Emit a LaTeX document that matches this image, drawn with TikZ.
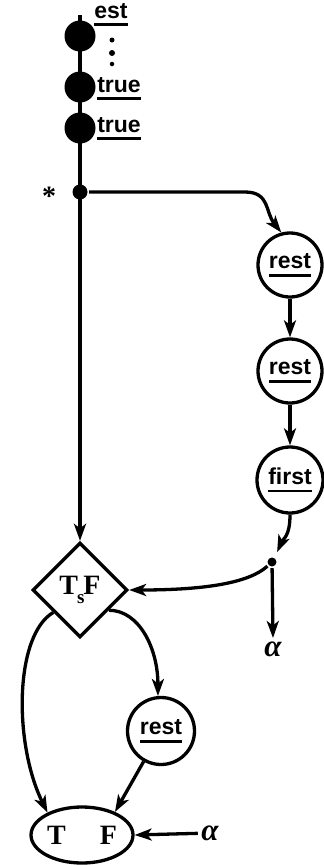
\documentclass[tikz,border=0pt]{standalone}
\usepackage{fontspec}
\setmainfont{Liberation Serif}
\newfontfamily\wordfont{Liberation Sans}
\usetikzlibrary{shapes.geometric,arrows.meta}
\newcommand\myul[1]{\setbox0\hbox{#1}\rlap{\rule[-8pt]{\wd0}{2.6pt}}\box0}
\begin{document}
\begin{tikzpicture}[x=1pt,y=-1pt,line width=3.3pt,
  arr/.style={-{Stealth[length=17pt,width=12pt,inset=4.5pt]}},
  blob/.style={circle,fill=black,draw=none,inner sep=0pt,minimum size=31pt},
  smalldot/.style={circle,fill=black,draw=none,inner sep=0pt,minimum size=#1},
  smalldot/.default=8pt,
  word/.style={font=\wordfont\bfseries\fontsize{23}{23}\selectfont,inner sep=0pt},
  ring/.style={circle,draw,inner sep=0pt,minimum size=64pt,font=\wordfont\bfseries\fontsize{23}{23}\selectfont},
  sym/.style={font=\bfseries\fontsize{28}{28}\selectfont},
  greek/.style={font=\bfseries\itshape\fontsize{31}{31}\selectfont,inner sep=2pt}
]
\useasboundingbox (0,0) rectangle (324,865);
% main vertical line
\coordinate (top) at (80,15);
\node[diamond,draw,minimum width=95pt,minimum height=95pt,inner sep=0pt,sym] (d) at (80,590)
  {T\kern-1pt\raisebox{-9pt}{\fontsize{19}{19}\selectfont s}\kern-1pt F};
\draw[arr] (top) -- (d.north);
% top blobs
\node[blob] (c1) at (80,36) {};
\node[blob] (c2) at (80,87) {};
\node[blob] (c3) at (80,128) {};
\node[word,anchor=base] (est) at (111,18) {\myul{est}};
\node[word,anchor=base] (t1) at (119,92) {\myul{true}};
\node[word,anchor=base] (t2) at (119,132) {\myul{true}};
\node[smalldot=5pt] (v1) at (112,40) {};
\node[smalldot=6pt] (v2) at (112,53) {};
\node[smalldot=4.5pt] (v3) at (112,64) {};
% star junction
\node[smalldot=15pt] (s) at (80,192) {};
\node[sym,anchor=base,font=\bfseries\fontsize{28}{28}\selectfont] (star) at (49,205) {*};
% right column
\node[ring] (r1) at (290,265) {\myul{rest}};
\node[ring] (r2) at (290,371) {\myul{rest}};
\node[ring,minimum size=66pt] (fi) at (290,480) {\myul{first}};
\node[smalldot=9pt] (j) at (272,562) {};
\node[greek,anchor=north] (a1) at (273,638) {α};
\draw[arr] (s) -- ++(165,0) .. controls +(25,0) and +(-16,-20) .. (r1.105);
\draw[arr] (r1) -- (r2);
\draw[arr] (r2) -- (fi);
\draw[arr,shorten >=5pt] (fi.south) .. controls +(0,22) and +(8,-18) .. (j.60);
\draw[arr] (j) -- (a1.north);
\draw[arr] (j) .. controls +(-22,20) and +(80,0) .. (d.east);
% bottom
\node[ring,minimum size=67pt] (r3) at (161,731) {\myul{rest}};
\node[ellipse,draw,minimum width=102pt,minimum height=56pt,inner sep=0pt,sym] (e) at (82,835) {T\hspace{34pt}F};
\node[greek] (a2) at (210,833) {α};
\draw[arr] (d.-140) .. controls +(-39,23) and +(-34,-69) .. (e.147);
\draw[arr] (d.-35) .. controls +(30,0) and +(0,-48) .. (r3.95);
\draw[arr] (r3) -- (e.35);
\draw[arr] (a2) -- (e.east);
\end{tikzpicture}
\end{document}
